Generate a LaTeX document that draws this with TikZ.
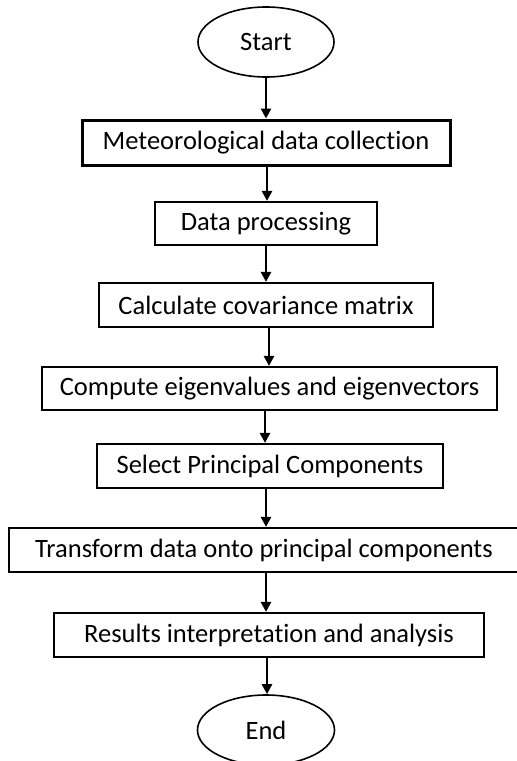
\documentclass[tikz,border=0pt]{standalone}
\usepackage{fontspec}
\setmainfont{Carlito}[Ligatures={NoCommon}]
\usetikzlibrary{shapes.geometric,arrows.meta}
\begin{document}
\begin{tikzpicture}[x=1pt,y=-1pt,
  every node/.style={font=\fontsize{26.5}{30}\selectfont, inner sep=0pt},
  stepbox/.style={draw, line width=2.2pt, rectangle, minimum height=44pt},
  term/.style={draw, line width=1.6pt, ellipse, minimum width=136pt, minimum height=70pt},
  arr/.style={line width=2.6pt, -{Triangle[length=10pt,width=10pt]}}]
\useasboundingbox (0,0) rectangle (517,761);
\node[term] (start) at (266,42) {Start};
\node[stepbox, line width=3pt, minimum width=368pt, minimum height=45pt] (b1) at (266,142.5) {Meteorological data collection};
\node[stepbox, minimum width=222pt, minimum height=43pt] (b2) at (266,223.5) {Data processing};
\node[stepbox, minimum width=334pt] (b3) at (266,305) {Calculate covariance matrix};
\node[stepbox, minimum width=455pt, minimum height=43pt] (b4) at (269.5,388.5) {Compute eigenvalues and eigenvectors};
\node[stepbox, minimum width=346pt] (b5) at (270,466) {Select Principal Components};
\node[stepbox, minimum width=510pt] (b6) at (264,550) {Transform data onto principal components};
\node[stepbox, minimum width=430pt] (b7) at (269,635) {Results interpretation and analysis};
\node[term, minimum width=137pt] (end) at (266,730) {End};
\coordinate (ax) at (266,0);
\coordinate (bx) at (267,0);
\coordinate (cx) at (269,0);
\coordinate (dx) at (265,0);
\draw[arr] (start.south -| ax) -- (b1.north -| ax);
\draw[arr] (b1.south -| bx) -- (b2.north -| bx);
\draw[arr] (b2.south -| ax) -- (b3.north -| ax);
\draw[arr] (b3.south -| cx) -- (b4.north -| cx);
\draw[arr] (b4.south -| dx) -- (b5.north -| dx);
\draw[arr] (b5.south -| ax) -- (b6.north -| ax);
\draw[arr] (b6.south -| ax) -- (b7.north -| ax);
\draw[arr] (b7.south -| bx) -- (end.north -| bx);
\end{tikzpicture}
\end{document}
